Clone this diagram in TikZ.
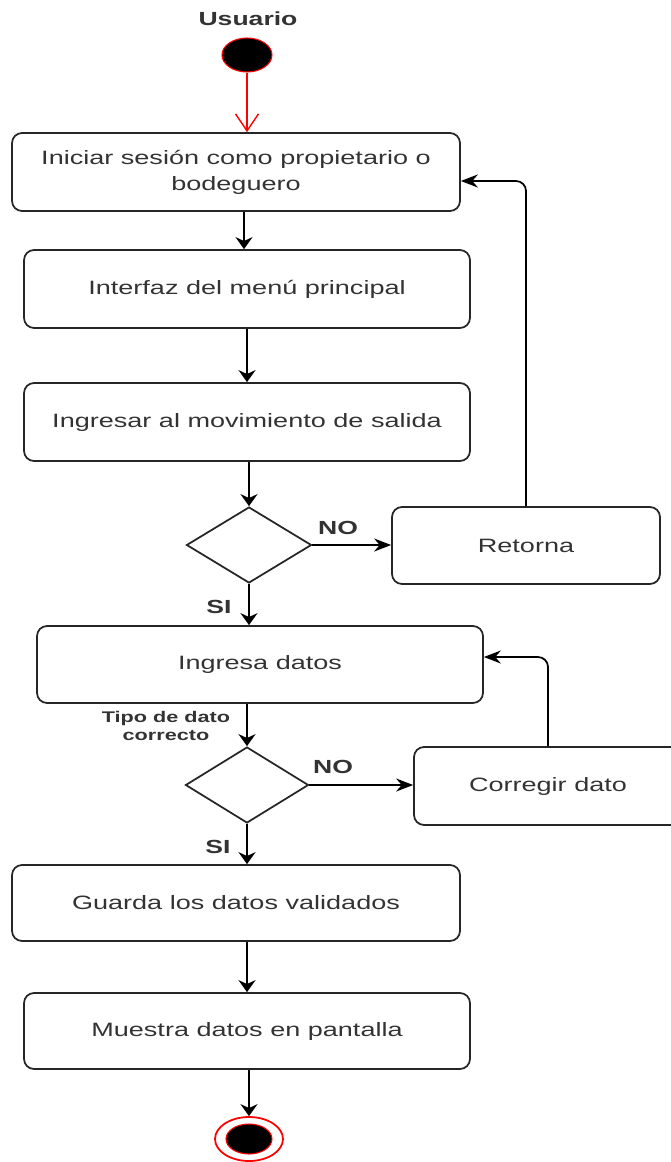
\documentclass[tikz,border=0pt]{standalone}
\usepackage{fontspec}
\setmainfont{Liberation Sans}[FakeStretch=1.4]
\usetikzlibrary{arrows.meta,shapes.geometric,calc}
\definecolor{txt}{RGB}{51,51,51}
\tikzset{
 box/.style={draw=black!85, line width=1pt, rounded corners=0.2cm, inner sep=0pt, align=center, text=txt, font=\fontsize{11}{14.7}\selectfont},
 dec/.style={diamond, draw=black!85, line width=1pt, inner sep=0pt},
 varr/.style={-{Stealth[length=2.4mm,width=3.4mm]}, line width=1pt},
 harr/.style={-{Stealth[length=3.4mm,width=2.6mm]}, line width=1pt},
 lbl/.style={font=\bfseries\fontsize{10.8}{12}\selectfont, text=txt},
 small/.style={font=\bfseries\fontsize{8.8}{10.2}\selectfont, text=txt, align=center},
}
\begin{document}
\begin{tikzpicture}[x=0.02cm,y=-0.02cm]
\useasboundingbox (0,0) rectangle (671,1162);
\coordinate (c1) at (244,0);
\coordinate (c2) at (247,0);
\node[lbl] (usr) at (248,19) {Usuario};
\node[ellipse, fill=black, draw=red, line width=0.6pt, minimum width=1cm, minimum height=0.68cm, inner sep=0pt] (start) at (247,55) {};
\node[box, minimum width=8.96cm, minimum height=1.56cm] (b1) at (236,172) {Iniciar sesión como propietario o\\bodeguero};
\node[box, minimum width=8.92cm, minimum height=1.56cm] (b2) at (247,289) {Interfaz del menú principal};
\node[box, minimum width=8.92cm, minimum height=1.56cm] (b3) at (247,422) {Ingresar al movimiento de salida};
\node[dec, minimum width=2.5cm, minimum height=1.52cm] (d1) at (249,545) {};
\node[box, minimum width=5.36cm, minimum height=1.54cm] (ret) at (526,545.5) {Retorna};
\node[box, minimum width=8.92cm, minimum height=1.54cm] (b4) at (260,664.5) {Ingresa datos};
\node[dec, minimum width=2.46cm, minimum height=1.52cm] (d2) at (247,785) {};
\node[box, minimum width=5.36cm, minimum height=1.56cm] (cor) at (548,786) {Corregir dato};
\node[box, minimum width=8.96cm, minimum height=1.52cm] (b5) at (236,903) {Guarda los datos validados};
\node[box, minimum width=8.92cm, minimum height=1.52cm] (b6) at (247,1031) {Muestra datos en pantalla};
\node[ellipse, fill=white, draw=red, line width=1pt, minimum width=1.36cm, minimum height=0.88cm, inner sep=0pt] (endo) at (249,1139) {};
\node[ellipse, fill=black, draw=red, line width=0.6pt, minimum width=0.92cm, minimum height=0.6cm, inner sep=0pt] (endi) at (249,1139) {};
\node[lbl] (no1) at (338,528) {NO};
\node[lbl] (no2) at (333,767) {NO};
\node[lbl] (si1) at (219,607) {SI};
\node[lbl] (si2) at (218,847) {SI};
\node[small] (tipo) at (166,726) {Tipo de dato\\correcto};
\draw[red, line width=0.8pt, -{Straight Barb[length=3.4mm,width=4.6mm]}] (start.south) -- (b1.north -| start);
\draw[varr] (b1.south -| c1) -- (b2.north -| c1);
\draw[varr] (b2.south -| c2) -- (b3.north -| c2);
\draw[varr] (b3.south -| d1) -- (d1.north);
\draw[varr] (d1.south) -- (b4.north -| d1);
\draw[harr] (d1.east) -- (ret.west |- d1);
\draw[harr, rounded corners=0.2cm] (ret.north) |- ($(b1.east)+(0,9)$);
\draw[varr] (b4.south -| d2) -- (d2.north);
\draw[harr] (d2.east) -- (cor.west |- d2);
\draw[harr, rounded corners=0.2cm] (cor.north) |- ($(b4.east)+(0,-7.5)$);
\draw[varr] (d2.south) -- (b5.north -| d2);
\draw[varr] (b5.south -| c2) -- (b6.north -| c2);
\draw[varr] (b6.south -| endo) -- (endo.north);
\end{tikzpicture}
\end{document}
